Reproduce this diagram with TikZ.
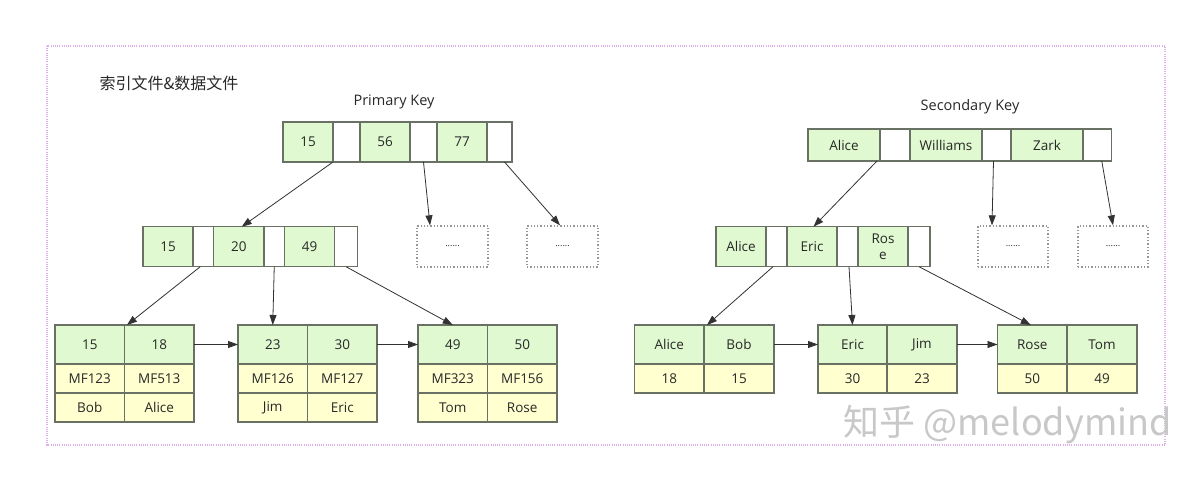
\documentclass[tikz,border=0pt]{standalone}
\usepackage{fontspec}
\setmainfont{Open Sans}
\newfontfamily\cjkfont{Noto Sans CJK SC}
\usetikzlibrary{arrows.meta}
\definecolor{gfill}{RGB}{224,249,208}
\definecolor{yfill}{RGB}{255,255,208}
\definecolor{cborder}{RGB}{105,112,100}
\definecolor{txt}{RGB}{40,40,40}
\definecolor{arr}{RGB}{50,50,50}
\definecolor{framec}{RGB}{222,175,232}
\definecolor{dotbox}{RGB}{150,150,150}
\definecolor{wmc}{RGB}{200,200,200}
\begin{document}
\begin{tikzpicture}[x=1pt,y=-1pt,
 cellbase/.style={draw=cborder, line width=1.2pt, inner sep=0pt, outer sep=0pt, text=txt, font=\fontsize{13.5}{16}\selectfont, align=center},
 gcell/.style={cellbase, fill=gfill},
 ycell/.style={cellbase, fill=yfill},
 wcell/.style={cellbase, fill=white},
 hA/.style={minimum height=40pt},
 hB/.style={minimum height=32pt},
 hH/.style={minimum height=39pt},
 hR/.style={minimum height=29pt},
 dbox/.style={draw=dotbox, dotted, line width=1.3pt, minimum width=71pt, minimum height=41pt, inner sep=0pt, font=\fontsize{9}{9}\selectfont, text=txt},
 link/.style={draw=arr, line width=0.8pt, -{Triangle[length=10pt,width=7pt]}},
]
\useasboundingbox (0,0) rectangle (1197,478);
\fill[white] (0,0) rectangle (1197,478);
\draw[framec, dash pattern=on 1pt off 1.2pt, line width=1.1pt] (47,46) rectangle (1165,445);

\node[anchor=west, font=\cjkfont\fontsize{16}{18}\selectfont, text=txt] (ttl) at (96,83) {索引文件\&数据文件};
\node[font=\fontsize{14.5}{16}\selectfont, text=txt] (pk) at (394,102) {Primary Key};
\node[font=\fontsize{14.5}{16}\selectfont, text=txt] (sk) at (970,107) {Secondary Key};

% primary root
\node[gcell,hA,minimum width=50pt] (r15) at (308,142) {15};
\node[wcell,hA,minimum width=27pt] (r1w) at (346.5,142) {};
\node[gcell,hA,minimum width=50pt] (r56) at (385,142) {56};
\node[wcell,hA,minimum width=27pt] (r2w) at (423.5,142) {};
\node[gcell,hA,minimum width=50pt] (r77) at (462,142) {77};
\node[wcell,hA,minimum width=25pt] (r3w) at (499.5,142) {};

% primary level 2
\node[gcell,hA,minimum width=50pt] (l15) at (168,246.7) {15};
\node[wcell,hA,minimum width=20.5pt] (l1w) at (203.25,246.7) {};
\node[gcell,hA,minimum width=50.5pt] (l20) at (238.75,246.7) {20};
\node[wcell,hA,minimum width=20.5pt] (l2w) at (274.25,246.7) {};
\node[gcell,hA,minimum width=50pt] (l49) at (309.5,246.7) {49};
\node[wcell,hA,minimum width=23pt] (l3w) at (346,246.7) {};
\node[dbox] (d1) at (452.5,246.5) {......};
\node[dbox] (d2) at (562.5,246.5) {......};

% primary leaves
\node[gcell,hH,minimum width=69.5pt] (a15) at (89.75,344.5) {15};
\node[gcell,hH,minimum width=69.5pt] (a18) at (159.25,344.5) {18};
\node[ycell,hR,minimum width=69.5pt] (m15) at (89.75,378.5) {MF123};
\node[ycell,hR,minimum width=69.5pt] (m18) at (159.25,378.5) {MF513};
\node[ycell,hR,minimum width=69.5pt] (n15) at (89.75,407.5) {Bob};
\node[ycell,hR,minimum width=69.5pt] (n18) at (159.25,407.5) {Alice};

\node[gcell,hH,minimum width=69.5pt] (a23) at (272.75,344.5) {23};
\node[gcell,hH,minimum width=69.5pt] (a30) at (342.25,344.5) {30};
\node[ycell,hR,minimum width=69.5pt] (m23) at (272.75,378.5) {MF126};
\node[ycell,hR,minimum width=69.5pt] (m30) at (342.25,378.5) {MF127};
\node[ycell,hR,minimum width=69.5pt] (n23) at (272.75,407.5) {Jim};
\node[ycell,hR,minimum width=69.5pt] (n30) at (342.25,407.5) {Eric};

\node[gcell,hH,minimum width=69.5pt] (a49) at (452.75,344.5) {49};
\node[gcell,hH,minimum width=69.5pt] (a50) at (522.25,344.5) {50};
\node[ycell,hR,minimum width=69.5pt] (m49) at (452.75,378.5) {MF323};
\node[ycell,hR,minimum width=69.5pt] (m50) at (522.25,378.5) {MF156};
\node[ycell,hR,minimum width=69.5pt] (n49) at (452.75,407.5) {Tom};
\node[ycell,hR,minimum width=69.5pt] (n50) at (522.25,407.5) {Rose};

% secondary root
\node[gcell,hB,minimum width=72pt] (sA) at (844,145) {Alice};
\node[wcell,hB,minimum width=30pt] (s1w) at (895,145) {};
\node[gcell,hB,minimum width=72pt] (sW) at (946,145) {Williams};
\node[wcell,hB,minimum width=29pt] (s2w) at (996.5,145) {};
\node[gcell,hB,minimum width=72pt] (sZ) at (1047,145) {Zark};
\node[wcell,hB,minimum width=28.5pt] (s3w) at (1097.25,145) {};

% secondary level 2
\node[gcell,hA,minimum width=50pt] (tA) at (741,246.7) {Alice};
\node[wcell,hA,minimum width=21pt] (t1w) at (776.5,246.7) {};
\node[gcell,hA,minimum width=50pt] (tE) at (812,246.7) {Eric};
\node[wcell,hA,minimum width=21pt] (t2w) at (847.5,246.7) {};
\node[gcell,hA,minimum width=50pt] (tR) at (883,246.7) {Ros\\e};
\node[wcell,hA,minimum width=22pt] (t3w) at (919,246.7) {};
\node[dbox,minimum width=70pt] (e1) at (1013,246.5) {......};
\node[dbox,minimum width=70pt] (e2) at (1113,246.5) {......};

% secondary leaves
\node[gcell,hH,minimum width=69.5pt] (bA) at (669.25,344.5) {Alice};
\node[gcell,hH,minimum width=70pt] (bB) at (739,344.5) {Bob};
\node[ycell,hR,minimum width=69.5pt] (vA) at (669.25,378.5) {18};
\node[ycell,hR,minimum width=70pt] (vB) at (739,378.5) {15};

\node[gcell,hH,minimum width=69pt] (bE) at (852.5,344.5) {Eric};
\node[gcell,hH,minimum width=70pt] (bJ) at (922,344.5) {Jim};
\node[ycell,hR,minimum width=69pt] (vE) at (852.5,378.5) {30};
\node[ycell,hR,minimum width=70pt] (vJ) at (922,378.5) {23};

\node[gcell,hH,minimum width=69.5pt] (bR) at (1032.25,344.5) {Rose};
\node[gcell,hH,minimum width=70pt] (bT) at (1102,344.5) {Tom};
\node[ycell,hR,minimum width=69.5pt] (vR) at (1032.25,378.5) {50};
\node[ycell,hR,minimum width=70pt] (vT) at (1102,378.5) {49};

% connectors primary
\draw[link] (r15.south east) -- ([xshift=3pt]l20.north);
\draw[link] (r2w.south) -- ([xshift=-22.5pt]d1.north);
\draw[link] ([xshift=5pt]r3w.south) -- ([xshift=-2.5pt]d2.north);
\draw[link] ([xshift=-3pt]l1w.south) -- ([xshift=2.5pt]a18.north west);
\draw[link] (l2w.south) -- (a23.north);
\draw[link] (l3w.south) -- (a49.north);
\draw[link] (a18.east) -- (a23.west);
\draw[link] (a30.east) -- (a49.west);

% connectors secondary
\draw[link] ([xshift=-3pt]sA.south east) -- ([xshift=1.5pt]tE.north);
\draw[link] ([xshift=-3pt]s2w.south) -- ([xshift=-21pt]e1.north);
\draw[link] ([xshift=4.5pt]s3w.south) -- (e2.north);
\draw[link] ([xshift=-3.5pt]t1w.south) -- ([xshift=3pt]bB.north west);
\draw[link] ([xshift=1.5pt]t2w.south) -- (bE.north);
\draw[link] (t3w.south) -- ([xshift=-1.5pt]bR.north);
\draw[link] (bB.east) -- (bE.west);
\draw[link] (bJ.east) -- (bR.west);

\node[anchor=west, text=wmc, font=\cjkfont\fontsize{36}{36}\selectfont] (wmk) at (840,425) {知乎 @melodymind};
\end{tikzpicture}
\end{document}
